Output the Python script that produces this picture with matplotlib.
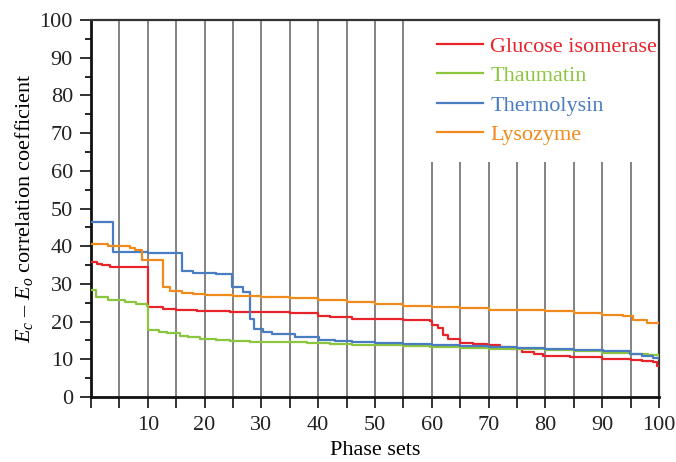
import numpy as np
import matplotlib
matplotlib.use("Agg")
import matplotlib.pyplot as plt
from matplotlib.ticker import MultipleLocator, FixedLocator

plt.rcParams['font.family'] = ['Liberation Serif', 'DejaVu Serif']
plt.rcParams['mathtext.fontset'] = 'custom'
plt.rcParams['mathtext.rm'] = 'Liberation Serif'
plt.rcParams['mathtext.it'] = 'Liberation Serif:italic'

# step breakpoints (phase set, correlation coefficient)
glucose_x = [0, 1, 2, 3.3, 10.1, 12.7, 15, 18.6, 24.5, 30, 35, 40, 42, 46, 50, 55, 59.7, 60, 61.1, 62, 62.9,
             65, 67.3, 69.7, 72, 74, 75.8, 78, 79.6, 84.3, 90, 95, 97, 99, 99.6, 100]
glucose_y = [35.8, 35.4, 35.0, 34.6, 24.0, 23.3, 23.0, 22.8, 22.6, 22.5, 22.4, 21.5, 21.2, 20.8, 20.6, 20.4, 20.2,
             19.1, 18.4, 16.4, 15.5, 14.4, 14.1, 13.7, 13.3, 12.8, 12.0, 11.4, 10.9, 10.5, 10.2, 9.8, 9.6, 9.4,
             8.3, 8.3]

thaumatin_x = [0, 0.9, 3, 6, 8, 9.8, 10.1, 12, 13.3, 15.7, 17, 19.2, 22, 24.5, 28, 33.3, 38, 42.1, 46, 50, 55,
               59.6, 65, 70, 75, 80, 85, 90, 95, 98, 100]
thaumatin_y = [28.4, 26.4, 25.7, 25.2, 24.6, 24.1, 17.8, 17.3, 16.9, 16.2, 15.8, 15.4, 15.1, 14.9, 14.7, 14.5,
               14.3, 14.1, 13.9, 13.7, 13.4, 13.2, 13.0, 12.8, 12.6, 12.4, 12.1, 11.8, 11.4, 11.1, 10.9]

thermolysin_x = [0, 3.9, 10, 16.0, 18, 22, 24.9, 26.8, 28.0, 28.7, 30.3, 31.8, 35.9, 40.1, 43, 46, 50, 55,
                 60, 65, 70, 75, 80, 85, 90.2, 94.9, 97, 99, 100]
thermolysin_y = [46.5, 38.5, 38.3, 33.4, 33.0, 32.7, 29.1, 27.9, 20.6, 18.0, 17.3, 16.6, 15.8, 15.1, 14.9,
                 14.6, 14.4, 14.1, 13.8, 13.6, 13.3, 13.0, 12.8, 12.5, 12.1, 11.5, 10.9, 10.3, 10.0]

lysozyme_x = [0, 3, 6.9, 7.7, 8.9, 12.7, 13.9, 16, 18, 20, 25, 30, 35, 40, 45, 50, 55, 60, 65, 70, 75, 80,
              85, 90, 93.7, 95.4, 97.8, 100]
lysozyme_y = [40.5, 40.0, 39.6, 39.0, 36.3, 29.1, 28.1, 27.7, 27.3, 27.1, 26.9, 26.5, 26.2, 25.8, 25.3,
              24.6, 24.2, 24.0, 23.6, 23.2, 23.0, 22.8, 22.4, 21.8, 21.5, 20.4, 19.5, 19.5]

series = [
    ("Glucose isomerase", glucose_x, glucose_y, "#e8242b"),
    ("Thaumatin", thaumatin_x, thaumatin_y, "#8cc63e"),
    ("Thermolysin", thermolysin_x, thermolysin_y, "#4a7cc2"),
    ("Lysozyme", lysozyme_x, lysozyme_y, "#f08a1c"),
]

fig = plt.figure(figsize=(6.76, 4.62), dpi=100)
ax = fig.add_axes([91 / 676, 1 - 397 / 462, (659 - 91) / 676, (397 - 20) / 462])

# vertical separators; the right ones stop below the legend
for xv in range(5, 100, 5):
    top = 100 if xv <= 55 else 62.3
    ax.vlines(xv, 0, top, color="#7a7a7a", lw=1.3, zorder=1)

for name, xs, ys, col in series:
    ax.plot(xs, ys, drawstyle="steps-post", color=col, lw=1.6, label=name, zorder=3)

ax.set_xlim(0, 100)
ax.set_ylim(0, 100)
ax.xaxis.set_major_locator(FixedLocator(np.arange(0, 101, 5)))
ax.set_xticklabels(["" if (v % 10 or v == 0) else str(v) for v in range(0, 101, 5)])
ax.yaxis.set_major_locator(MultipleLocator(10))
ax.yaxis.set_minor_locator(MultipleLocator(5))
ax.tick_params(axis="both", direction="out", length=8, width=1.3, labelsize=16, colors="#222222")
ax.tick_params(axis="y", which="minor", direction="out", length=4, width=1.2)
ax.tick_params(axis="x", pad=6)
ax.tick_params(axis="y", pad=5)

for side in ["left", "bottom"]:
    ax.spines[side].set_linewidth(2)
    ax.spines[side].set_color("#111111")
for side in ["top", "right"]:
    ax.spines[side].set_linewidth(1.6)
    ax.spines[side].set_color("#333333")

ax.set_xlabel("Phase sets", fontsize=16, labelpad=4)
ax.set_ylabel("$E_c$ \u2013 $E_o$ correlation coefficient", fontsize=16, labelpad=3)

leg = ax.legend(loc="upper right", frameon=False, fontsize=16, handlelength=2.07,
                handletextpad=0.35, labelspacing=0.4, borderaxespad=0, borderpad=0,
                bbox_to_anchor=(0.997, 0.957))
for txt, (_, _, _, col) in zip(leg.get_texts(), series):
    txt.set_color(col)

fig.savefig("out.png", dpi=100)
